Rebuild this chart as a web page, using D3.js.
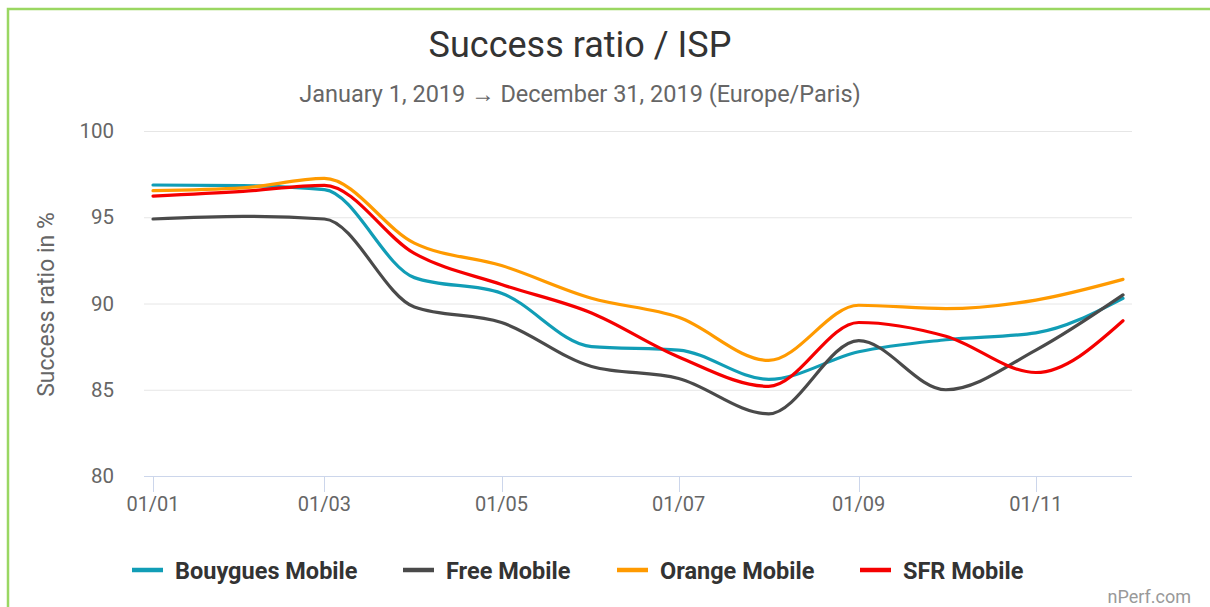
<!DOCTYPE html>
<html>
<head>
<meta charset="utf-8">
<script src="https://cdn.jsdelivr.net/npm/d3@7"></script>
<style>
  html, body { margin: 0; padding: 0; background: #fff; }
  svg { display: block; font-family: Roboto, "Noto Sans", sans-serif; }
</style>
</head>
<body>
<svg id="chart"></svg>
<script>
// monthly points, 1st of each month 2019
const months = ["2019-01-01", "2019-02-01", "2019-03-01", "2019-04-01", "2019-05-01", "2019-06-01",
                "2019-07-01", "2019-08-01", "2019-09-01", "2019-10-01", "2019-11-01", "2019-12-01"];

const bouygues = [96.87, 96.83, 96.6, 91.5, 90.6, 87.5, 87.3, 85.6, 87.2, 87.9, 88.3, 90.3];
const free     = [94.9, 95.05, 94.9, 89.8, 88.9, 86.35, 85.65, 83.6, 87.85, 85.0, 87.3, 90.5];
const orange   = [96.54, 96.7, 97.25, 93.5, 92.2, 90.3, 89.2, 86.7, 89.9, 89.7, 90.2, 91.4];
const sfr      = [96.23, 96.5, 96.85, 92.9, 91.1, 89.45, 86.9, 85.2, 88.9, 88.1, 86.0, 89.0];

const seriesNames = ["Bouygues Mobile", "Free Mobile", "Orange Mobile", "SFR Mobile"];
const seriesColors = ["#119db6", "#4a4a4a", "#ff9a00", "#f50000"];
const yTicks = [80, 85, 90, 95, 100];
const xTicks = ["2019-01-01", "2019-03-01", "2019-05-01", "2019-07-01", "2019-09-01", "2019-11-01"];

const width = 1210;
const height = 607;
const plot = { left: 144, right: 1132, top: 131, bottom: 476 };

const parse = d3.utcParse("%Y-%m-%d");
const dates = months.map(parse);

const svg = d3.select("#chart")
    .attr("width", width)
    .attr("height", height);

// green frame (top + left)
svg.append("path")
    .attr("d", `M8,${height} V9 H${width}`)
    .attr("fill", "none")
    .attr("stroke", "#9ad762")
    .attr("stroke-width", 2.5);

const x = d3.scaleUtc()
    .domain([dates[0], dates[dates.length - 1]])
    .range([153, 1123]);

const y = d3.scaleLinear()
    .domain([80, 100])
    .range([plot.bottom, plot.top]);

// titles
svg.append("text")
    .attr("x", 580).attr("y", 57)
    .attr("text-anchor", "middle")
    .attr("font-size", 36)
    .attr("fill", "#333")
    .text("Success ratio / ISP");

svg.append("text")
    .attr("x", 580).attr("y", 102)
    .attr("text-anchor", "middle")
    .attr("font-size", 23.5)
    .attr("fill", "#666")
    .text("January 1, 2019 \u2192 December 31, 2019 (Europe/Paris)");

// grid
svg.append("g")
    .selectAll("line")
    .data(yTicks.filter(d => d !== 80))
    .join("line")
    .attr("x1", plot.left).attr("x2", plot.right)
    .attr("y1", d => y(d) + 0.5).attr("y2", d => y(d) + 0.5)
    .attr("stroke", "#e6e6e6");

// y labels
svg.append("g")
    .selectAll("text")
    .data(yTicks)
    .join("text")
    .attr("x", 114)
    .attr("y", d => y(d) + 7)
    .attr("text-anchor", "end")
    .attr("font-size", 20.5)
    .attr("fill", "#666")
    .text(d => d);

svg.append("text")
    .attr("transform", `translate(54, ${(plot.top + plot.bottom) / 2 + 1}) rotate(-90)`)
    .attr("text-anchor", "middle")
    .attr("font-size", 23)
    .attr("fill", "#666")
    .text("Success ratio in %");

// x axis
const xAxis = svg.append("g");
xAxis.append("line")
    .attr("x1", plot.left).attr("x2", plot.right)
    .attr("y1", plot.bottom + 0.5).attr("y2", plot.bottom + 0.5)
    .attr("stroke", "#ccd6eb");

xAxis.selectAll(".tick")
    .data(xTicks.map(parse))
    .join("line")
    .attr("class", "tick")
    .attr("x1", d => Math.round(x(d)) + 0.5).attr("x2", d => Math.round(x(d)) + 0.5)
    .attr("y1", plot.bottom).attr("y2", plot.bottom + 16)
    .attr("stroke", "#ccd6eb");

xAxis.selectAll(".lbl")
    .data(xTicks.map(parse))
    .join("text")
    .attr("class", "lbl")
    .attr("x", d => x(d))
    .attr("y", 511)
    .attr("text-anchor", "middle")
    .attr("font-size", 20)
    .attr("fill", "#666")
    .text(d3.utcFormat("%d/%m"));

// lines
const allSeries = [bouygues, free, orange, sfr];
const line = d3.line()
    .x((d, i) => x(dates[i]))
    .y(d => y(d))
    .curve(d3.curveMonotoneX);

svg.append("g")
    .selectAll("path")
    .data(allSeries)
    .join("path")
    .attr("d", d => line(d))
    .attr("fill", "none")
    .attr("stroke", (d, i) => seriesColors[i])
    .attr("stroke-width", 3.2)
    .attr("stroke-linejoin", "round")
    .attr("stroke-linecap", "round");

// legend
const legendX = [132, 403, 617, 860];
const legend = svg.append("g")
    .selectAll("g")
    .data(seriesNames)
    .join("g")
    .attr("transform", (d, i) => `translate(${legendX[i]}, 570)`);

legend.append("line")
    .attr("x1", 0).attr("x2", 31)
    .attr("stroke", (d, i) => seriesColors[i])
    .attr("stroke-width", 4.5);

legend.append("text")
    .attr("x", 43)
    .attr("y", 8.5)
    .attr("font-size", 23.5)
    .attr("font-weight", "bold")
    .attr("fill", "#333")
    .text(d => d);

svg.append("text")
    .attr("x", 1191).attr("y", 603)
    .attr("text-anchor", "end")
    .attr("font-size", 18)
    .attr("fill", "#999")
    .text("nPerf.com");
</script>
</body>
</html>
